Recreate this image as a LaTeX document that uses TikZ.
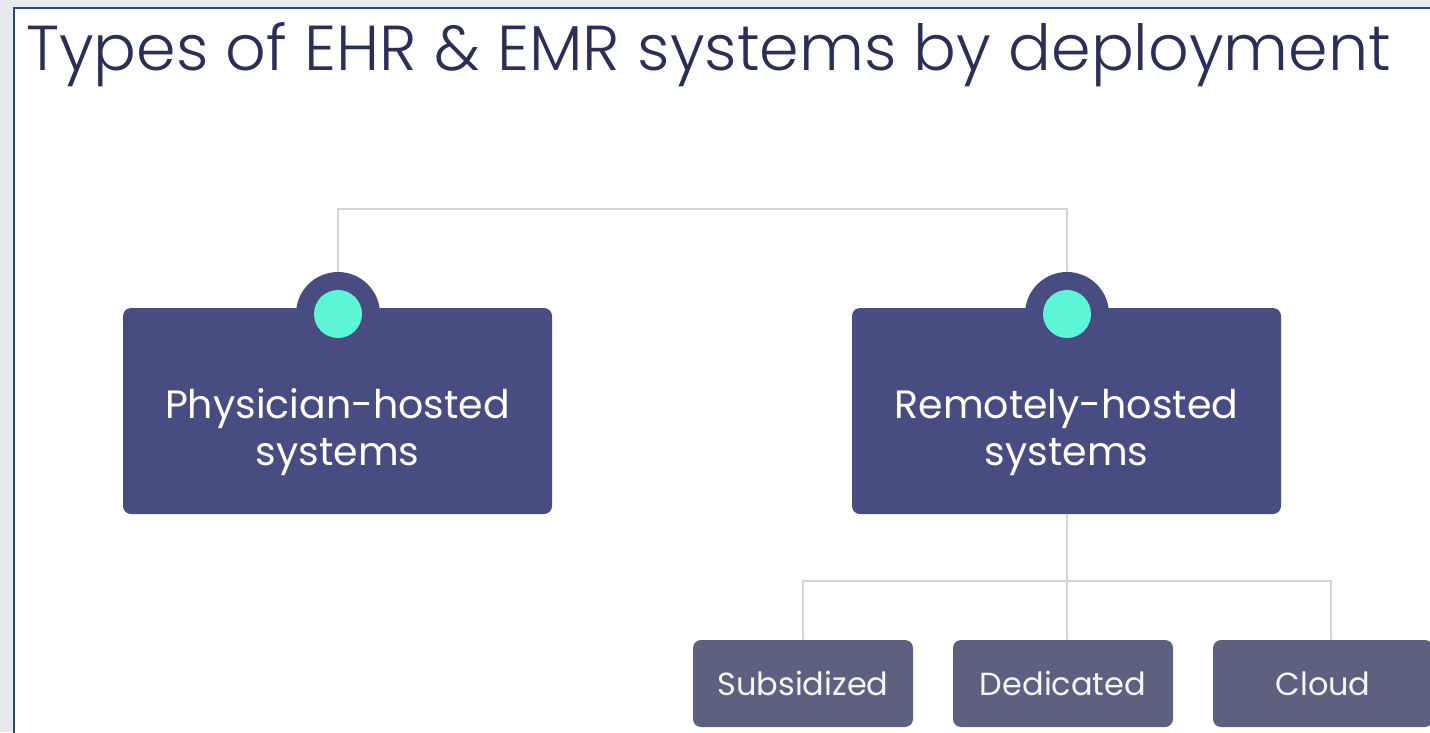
\documentclass[tikz,border=0pt]{standalone}
\usepackage{fontspec}
\setmainfont{Poppins}
\newfontfamily\titlefont{Poppins}[UprightFont=* Light]
\definecolor{panelbg}{HTML}{E7EAED}
\definecolor{frame}{HTML}{2B4A78}
\definecolor{titleink}{HTML}{2B2E57}
\definecolor{bigfill}{HTML}{494C80}
\definecolor{smallfill}{HTML}{5E607F}
\definecolor{mint}{HTML}{5CF5D6}
\definecolor{linkgray}{HTML}{D4D4D4}
\begin{document}
\begin{tikzpicture}[x=1pt, y=-1pt, node distance=260pt,
  bigbox/.style={rectangle, rounded corners=8pt, fill=bigfill, minimum width=429pt, minimum height=206pt},
  boxtext/.style={text=white, align=center, font=\fontsize{39.5}{47}\selectfont},
  smallbox/.style={rectangle, rounded corners=8pt, fill=smallfill, text=white!94!smallfill, minimum width=220pt, minimum height=87pt, font=\fontsize{32}{36}\selectfont},
  bump/.style={circle, fill=bigfill, minimum size=84pt, inner sep=0pt},
  dot/.style={circle, fill=mint, minimum size=48pt, inner sep=0pt},
  link/.style={draw=linkgray, line width=2pt}]
  \useasboundingbox (0,0) rectangle (1430,732);
  \fill[panelbg] (0,0) rectangle (1430,732);
  \filldraw[fill=white, draw=frame, line width=2pt] (14,8) rectangle (1445,745);

  \node[anchor=base west, text=titleink, inner sep=0pt, font=\titlefont\fontsize{63.5}{70}\selectfont] (title) at (26,70) {Types of EHR \& EMR systems by deployment};

  \node[bump] (lbump) at (338,314) {};
  \node[bump] (rbump) at (1067,314) {};
  \node[bigbox] (physician) at (337.5,411) {};
  \node[bigbox, right of=physician, node distance=729pt] (remote) {};
  \node[boxtext] (physiciantext) at ([yshift=-21pt]physician.center) {Physician-hosted\\systems};
  \node[boxtext] (remotetext) at ([yshift=-21pt]remote.center) {Remotely-hosted\\systems};
  \node[dot] (ldot) at (lbump) {};
  \node[dot] (rdot) at (rbump) {};

  \node[smallbox] (dedicated) at (1063,683.5) {Dedicated};
  \node[smallbox, left of=dedicated] (subsidized) {Subsidized};
  \node[smallbox, right of=dedicated] (cloud) {Cloud};

  \draw[link] (lbump.north) -- ++(0,-63) -| (rbump.north);
  \draw[link] (remote.south) -- ++(0,67) coordinate (split);
  \draw[link] (subsidized.north) |- (split) -| ([xshift=8pt]cloud.north);
  \draw[link] (split) -- (split |- dedicated.north);

\end{tikzpicture}
\end{document}
